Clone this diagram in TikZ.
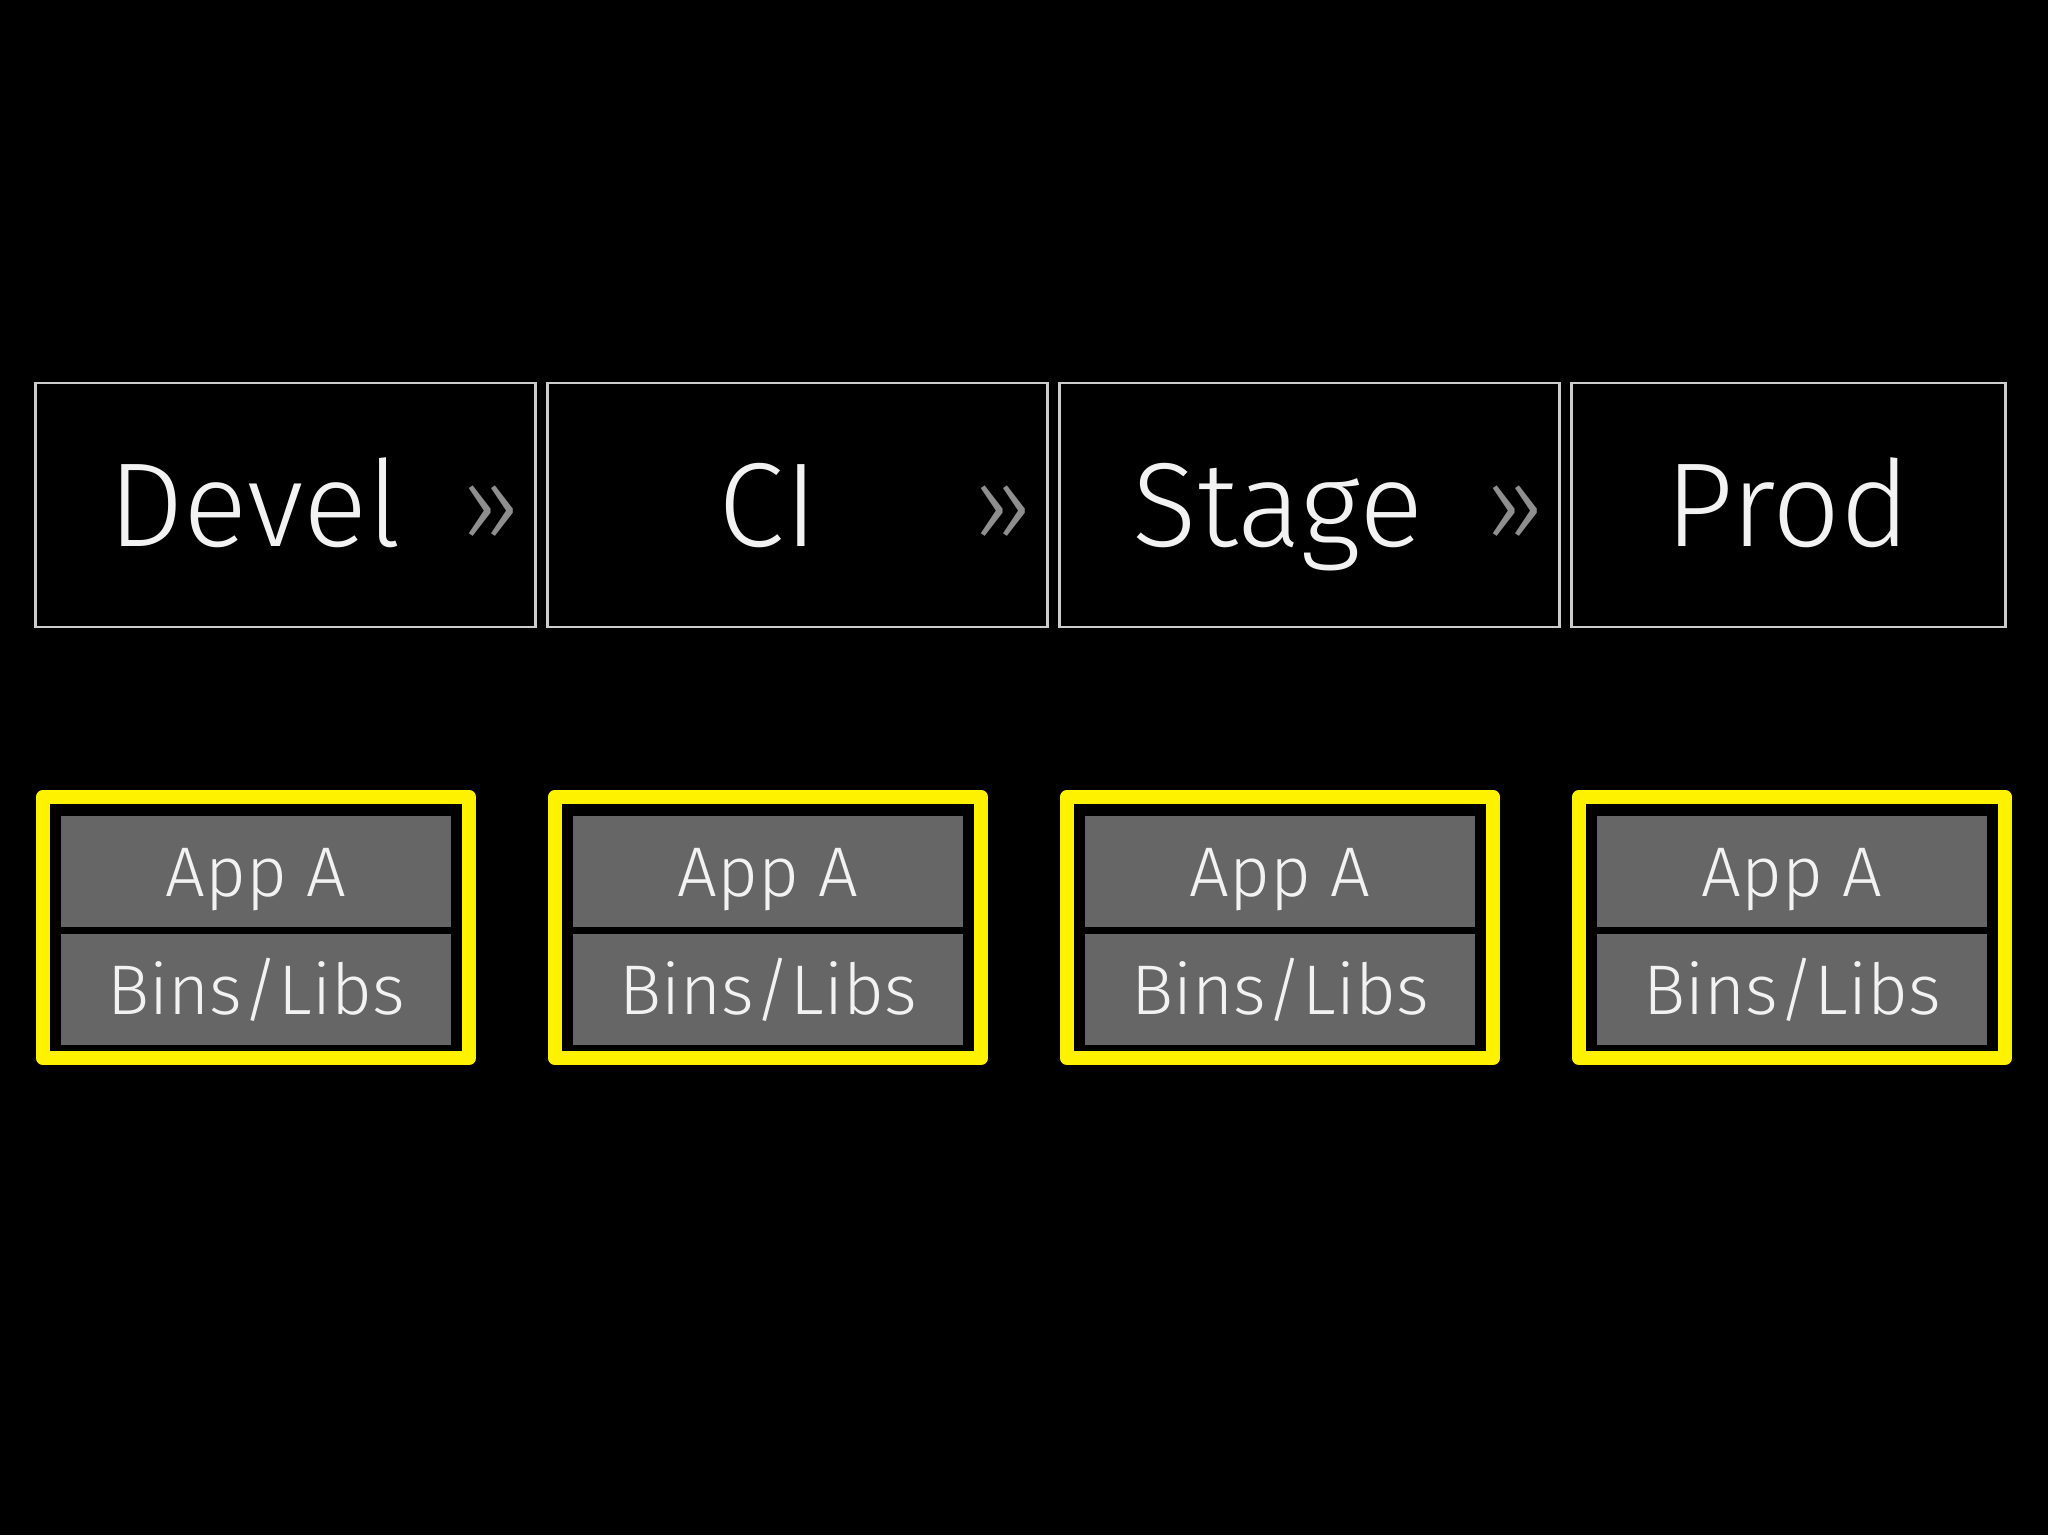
\documentclass[tikz,border=0pt]{standalone}
\usepackage{fontspec}
\setmainfont{Fira Sans Light}
\definecolor{stagegray}{HTML}{CCCCCC}
\definecolor{layergray}{HTML}{666666}
\definecolor{chevgray}{HTML}{8E8E8E}
\definecolor{textwhite}{HTML}{F2F2F2}
\tikzset{
  stagebox/.style={draw=stagegray,line width=0.25mm,minimum height=2.44cm,inner sep=0pt},
  stagelabel/.style={text=textwhite,font=\fontsize{34}{40}\selectfont,text height=0.83cm,text depth=0pt,inner sep=0pt},
  chevron/.style={text=chevgray,font=\fontsize{31}{36}\selectfont,inner sep=0pt},
  appframe/.style={draw=yellow,line width=0.14cm,line join=round,minimum width=4.26cm,minimum height=2.61cm,inner sep=0pt},
  layer/.style={fill=layergray,text=textwhite,font=\fontsize{20}{24}\selectfont,minimum width=3.9cm,minimum height=1.11cm,text height=0.49cm,text depth=0pt,inner sep=0pt}
}
\begin{document}
\begin{tikzpicture}[x=0.01cm,y=-0.01cm]
  \fill [black] (0,0) rectangle (2048,1535);
  \foreach \i/\stage/\w/\lx in {0/Devel/5.00/255,1/CI/5.00/768,2/Stage/5.00/1278,3/Prod/4.34/1788} {
    \node [stagebox,minimum width=\w cm,anchor=west] (box\i) at (34+512*\i,505) {};
    \node [stagelabel] (label\i) at (\lx,505) {\stage};
  }
  \foreach \i in {0,1,2}
    \node [chevron] (arrow\i) at (491+512*\i,514) {»};
  \foreach \i in {0,...,3} {
    \node [appframe] (frame\i) at (256+512*\i,927.5) {};
    \node [layer] (app\i) at (256+512*\i,871.5) {App A};
    \node [layer] (bins\i) at (256+512*\i,989.5) {Bins/Libs};
  }
\end{tikzpicture}
\end{document}
